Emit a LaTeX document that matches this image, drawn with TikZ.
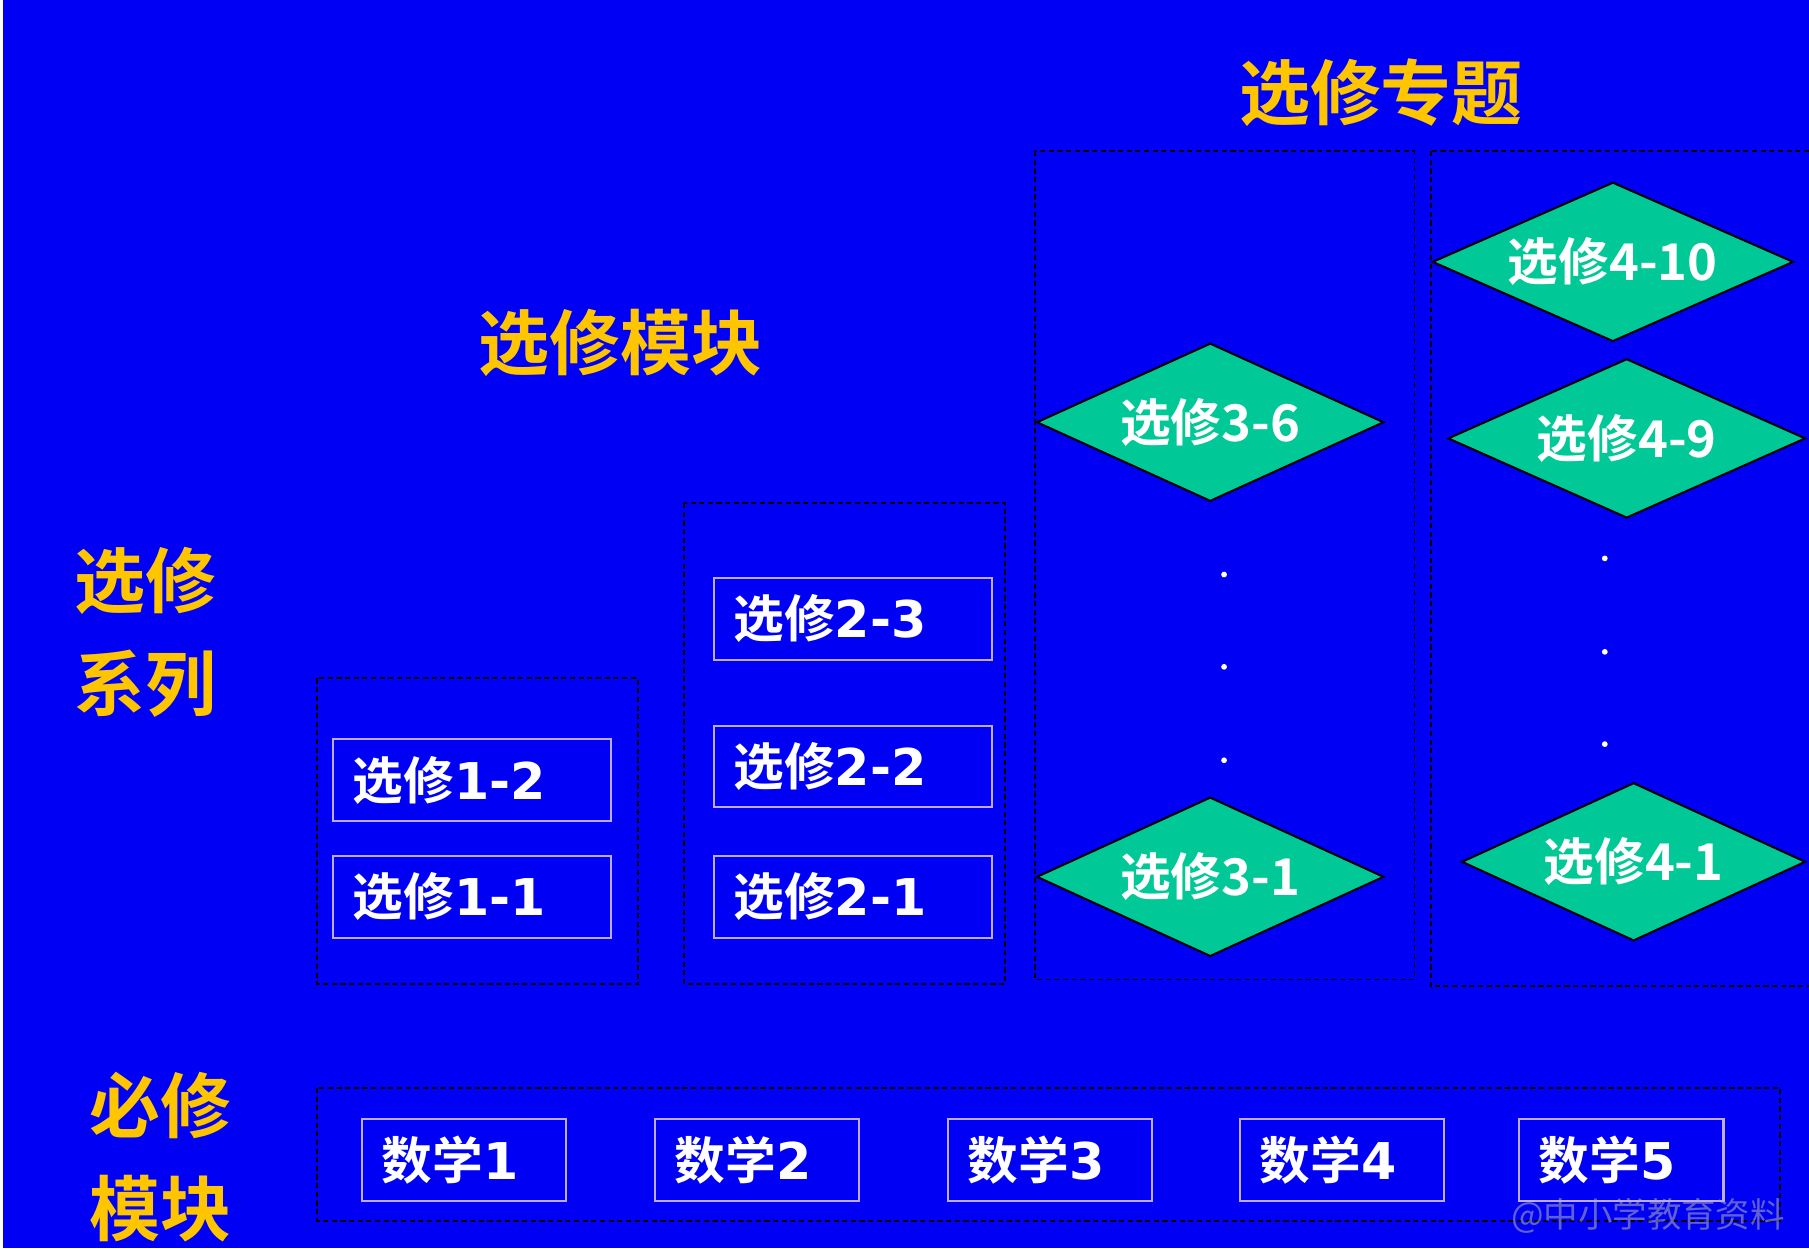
\documentclass[tikz,border=0pt]{standalone}
\usepackage{fontspec}
\setmainfont{Noto Sans CJK SC}[BoldFont=* Bold]
\newfontfamily\numfont{DejaVu Sans}
\usepackage{tikz}
\usetikzlibrary{positioning, shapes.geometric}

\definecolor{slideblue}{RGB}{0,0,245}
\definecolor{headgold}{RGB}{255,198,0}
\definecolor{topicgreen}{RGB}{0,200,150}
\definecolor{boxlilac}{RGB}{190,170,255}

\tikzset{
    heading/.style={text=headgold, font=\bfseries\fontsize{17.5}{25.6}\selectfont, align=center, inner sep=0pt},
    group/.style={draw=black, line width=0.45pt, dash pattern=on 0.45mm off 0.3mm},
    module/.style={draw=boxlilac, line width=0.5pt, text=white,
        font=\bfseries\fontsize{12.5}{15}\selectfont,
        minimum width=24.1mm, minimum height=7.1mm, text width=20.7mm,
        inner xsep=1.7mm, inner ysep=0pt, align=left, anchor=north west},
    basic/.style={module, minimum width=17.7mm, text width=14.3mm},
    topic/.style={diamond, fill=topicgreen, draw=black, line width=0.5pt, text=white,
        font=\bfseries\fontsize{12.5}{15}\selectfont, inner sep=0pt, aspect=2.2},
}

\begin{document}
\begin{tikzpicture}[x=0.1mm, y=-0.1mm]
    \def\pw{1568}
    \def\ph{1082}

    % background
    \fill[slideblue] (0,0) rectangle (\pw,\ph);
    \fill[white] (0,0) rectangle (2.5,\ph);
    \useasboundingbox (0,0) rectangle (\pw,\ph);

    % headings
    \node[heading] (topics) at (1197,80) {选修专题};
    \node[heading] (electives) at (538,297) {选修模块};
    \node[heading] (series) at (126,548) {选修\\系列};
    \node[heading] (required) at (139,1003) {必修\\模块};

    % dashed groups
    \draw[group] (275,588) rectangle (553,853);
    \draw[group] (593,436) rectangle (871,853);
    \draw[group] (897,131) rectangle (1226,849);
    \draw[group] (1240,131) rectangle (1580,855);
    \draw[group] (275,943) rectangle (1543,1058);

    % series 1 and 2
    \node[module] (e12) at (288,640) {选修{\numfont 1-2}};
    \node[module] (e11) at (288,741) {选修{\numfont 1-1}};
    \node[module] (e23) at (618,500) {选修{\numfont 2-3}};
    \node[module] (e22) at (618,628) {选修{\numfont 2-2}};
    \node[module] (e21) at (618,741) {选修{\numfont 2-1}};

    % series 3 and 4
    \node[topic, minimum width=30.1mm, minimum height=13.7mm] (e36) at (1049,366) {选修3-6};
    \node[topic, minimum width=30.1mm, minimum height=13.8mm] (e31) at (1049,760) {选修3-1};
    \node[topic, minimum width=31.3mm, minimum height=13.8mm] (e410) at (1398,227) {选修4-10};
    \node[topic, minimum width=31.0mm, minimum height=13.8mm] (e49) at (1410,380) {选修4-9};
    \node[topic, minimum width=29.8mm, minimum height=13.7mm] (e41) at (1416,747) {选修4-1};

    \foreach \x/\y in {1061/498, 1061/578, 1061/659, 1391/484, 1391/565, 1391/645}
    {
        \fill[white] (\x,\y) circle (0.25mm);
    }

    % required modules
    \foreach \n/\x in {1/313, 2/567, 3/821, 4/1074, 5/1316}
    {
        \node[basic] (m\n) at (\x,969) {数学{\numfont\n}};
    }

    % watermark
    \node[anchor=west, text=gray!60, opacity=0.55, inner sep=0pt,
        font=\fontsize{8.5}{10}\selectfont] (mark) at (1309,1054) {@中小学教育资料};
\end{tikzpicture}
\end{document}
